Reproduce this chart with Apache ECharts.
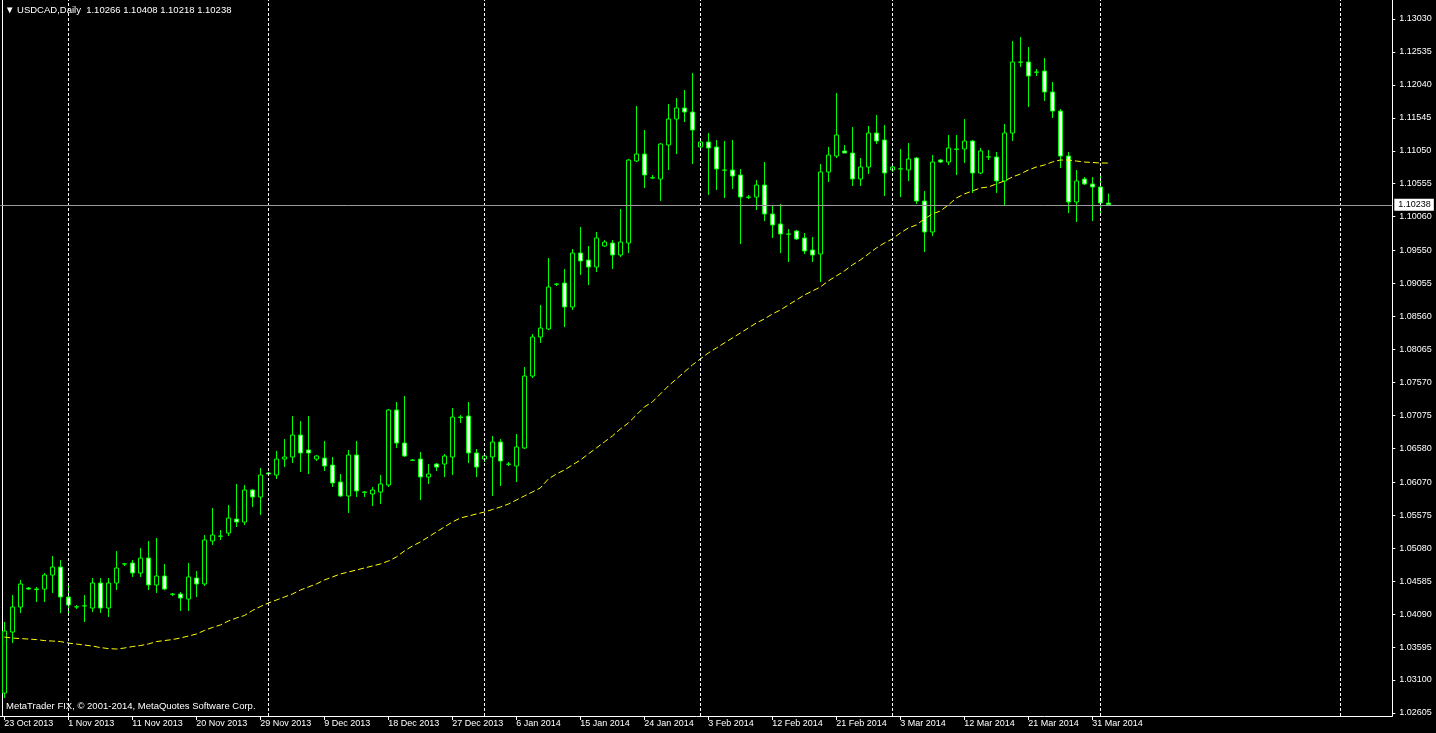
<!DOCTYPE html>
<html><head><meta charset="utf-8">
<script src="https://cdn.jsdelivr.net/npm/echarts@6/dist/echarts.min.js"></script>
<style>html,body{margin:0;padding:0;background:#000;overflow:hidden}#c{width:1436px;height:733px}</style>
</head><body><div id="c"></div><script>
// ---- data ----
const symbolName = 'USDCAD,Daily';
const headerOHLC = ['1.10266', '1.10408', '1.10218', '1.10238'];
const copyrightText = 'MetaTrader FIX, \u00A9 2001-2014, MetaQuotes Software Corp.';
const monthDays = [
  ['Oct', 2013, [23,24,25,27,28,29,30,31]],
  ['Nov', 2013, [1,3,4,5,6,7,8,10,11,12,13,14,15,17,18,19,20,21,22,24,25,26,27,28,29]],
  ['Dec', 2013, [1,2,3,4,5,6,8,9,10,11,12,13,15,16,17,18,19,20,22,23,24,25,26,27,29,30,31]],
  ['Jan', 2014, [1,2,3,5,6,7,8,9,10,12,13,14,15,16,17,19,20,21,22,23,24,26,27,28,29,30,31]],
  ['Feb', 2014, [2,3,4,5,6,7,9,10,11,12,13,14,16,17,18,19,20,21,23,24,25,26,27,28]],
  ['Mar', 2014, [2,3,4,5,6,7,9,10,11,12,13,14,16,17,18,19,20,21,23,24,25,26,27,28,30,31]],
  ['Apr', 2014, [1,2]]
];
const futureSlots = 35;
const monthStartIdx = [8, 33, 60, 87, 111, 137, 167];
const priceTicks = [1.13030,1.12535,1.12040,1.11545,1.11050,1.10555,1.10060,1.09550,1.09055,1.08560,1.08065,1.07570,1.07075,1.06580,1.06070,1.05575,1.05080,1.04585,1.04090,1.03595,1.03100,1.02605];
const yMin = 1.02559, yMax = 1.13315;
const lastPrice = 1.10238;

const opens = [
1.02904,1.0382,1.04196,1.04481,1.04466,1.04466,1.04677,1.04797,1.04346,1.04196,
1.04211,1.04181,1.04557,1.04181,1.04557,1.04842,1.04857,1.04707,1.04932,1.04527,
1.04662,1.04391,1.04391,1.04316,1.04632,1.04542,1.05188,1.05263,1.05308,1.05518,
1.05473,1.05954,1.05849,1.06209,1.06179,1.06419,1.0645,1.0678,1.06555,1.06419,
1.06434,1.06329,1.06074,1.05864,1.0648,1.05924,1.05894,1.05924,1.06029,1.07156,
1.0666,1.06404,1.06419,1.06149,1.06344,1.06344,1.0645,1.0705,1.07065,1.0651,
1.06419,1.0645,1.06675,1.06344,1.06314,1.06585,1.07666,1.08252,1.08372,1.09048,
1.09063,1.08703,1.09514,1.09409,1.09304,1.09619,1.09664,1.09484,1.09664,1.10896,
1.11001,1.10641,1.10626,1.11137,1.11527,1.11693,1.11632,1.11107,1.11182,1.11107,
1.10761,1.10761,1.10686,1.10355,1.10355,1.10536,1.101,1.0995,1.098,1.09845,
1.0974,1.09559,1.09499,1.10731,1.10971,1.11047,1.11016,1.10626,1.10806,1.11317,
1.11212,1.10761,1.10776,1.10761,1.10941,1.10295,1.0983,1.10911,1.10881,1.11077,
1.11077,1.11197,1.10716,1.10956,1.10956,1.10596,1.11317,1.12384,1.12384,1.12233,
1.12248,1.11933,1.11647,1.10971,1.1028,1.10626,1.10551,1.10506,1.10266];
const closes = [
1.03835,1.04196,1.04542,1.04466,1.0446,1.04677,1.04797,1.04346,1.04226,1.042,
1.04215,1.04557,1.04181,1.04557,1.04782,1.04845,1.04707,1.04932,1.04527,1.04662,
1.04466,1.04388,1.04331,1.04647,1.04542,1.05203,1.05278,1.0526,1.05533,1.05473,
1.05954,1.05849,1.06179,1.06194,1.06419,1.0645,1.0678,1.0651,1.0651,1.06465,
1.06314,1.06059,1.05864,1.0648,1.05939,1.0592,1.05954,1.06044,1.07156,1.0666,
1.06465,1.064,1.06149,1.06194,1.06299,1.06465,1.0705,1.07045,1.0651,1.06299,
1.06465,1.06675,1.06389,1.0634,1.066,1.07666,1.08252,1.08387,1.09003,1.09045,
1.08703,1.09514,1.09394,1.09304,1.0974,1.09679,1.09484,1.09679,1.10911,1.11001,
1.10686,1.10645,1.11152,1.11527,1.11693,1.11632,1.11362,1.11182,1.11092,1.10776,
1.10758,1.10671,1.10355,1.1035,1.10536,1.101,1.09935,1.098,1.09797,1.09725,
1.09544,1.09484,1.10731,1.10986,1.11287,1.11016,1.10626,1.10806,1.11317,1.11197,
1.10716,1.10806,1.1078,1.10926,1.10295,1.0983,1.10881,1.10881,1.11092,1.11072,
1.11197,1.10716,1.11047,1.1096,1.10596,1.11317,1.12384,1.1238,1.12173,1.1223,
1.11933,1.11647,1.10971,1.1028,1.10596,1.10551,1.10506,1.10265,1.10238];
const highs = [
1.03971,1.04376,1.04602,1.04497,1.04497,1.04707,1.04962,1.04902,1.04542,1.04226,
1.04376,1.04632,1.04632,1.04632,1.05037,1.04857,1.04902,1.05082,1.05188,1.05233,
1.04842,1.04406,1.04421,1.04857,1.04737,1.05278,1.05683,1.05353,1.05728,1.06044,
1.06029,1.05969,1.06284,1.06224,1.0654,1.0672,1.07065,1.0699,1.07065,1.0648,
1.0669,1.0645,1.06194,1.06555,1.0669,1.05939,1.05999,1.06179,1.07171,1.07276,
1.07366,1.06419,1.06525,1.06344,1.06359,1.06495,1.07186,1.0708,1.07276,1.0657,
1.0648,1.06765,1.0672,1.06374,1.06795,1.07802,1.08297,1.08733,1.09439,1.09063,
1.09274,1.09574,1.09905,1.09619,1.0983,1.09709,1.09709,1.10175,1.10926,1.11723,
1.11362,1.10686,1.11167,1.11753,1.11843,1.11963,1.12218,1.11212,1.11317,1.11212,
1.11197,1.11212,1.10776,1.10386,1.10611,1.10881,1.10235,1.1025,1.09875,1.0986,
1.09815,1.09755,1.10851,1.11107,1.11918,1.11137,1.11407,1.10941,1.11422,1.11587,
1.11437,1.10836,1.11077,1.11167,1.10956,1.10446,1.10986,1.10926,1.11287,1.11287,
1.11527,1.11212,1.11092,1.11062,1.11032,1.11452,1.12699,1.12759,1.12609,1.12278,
1.12444,1.12083,1.11677,1.11032,1.10761,1.10656,1.10656,1.10686,1.10408];
const lows = [
1.02829,1.03655,1.04106,1.04451,1.04271,1.04271,1.04406,1.04106,1.04106,1.04166,
1.03971,1.04121,1.04106,1.04046,1.04451,1.04812,1.04647,1.04647,1.04451,1.04406,
1.04451,1.04361,1.04136,1.04136,1.04346,1.04512,1.05127,1.05203,1.05263,1.05398,
1.05428,1.05698,1.05578,1.06179,1.06119,1.06299,1.06359,1.06224,1.06194,1.06389,
1.06239,1.05999,1.05849,1.05608,1.05849,1.05849,1.05713,1.05743,1.05999,1.06585,
1.0645,1.06389,1.05803,1.06044,1.06239,1.06149,1.06179,1.0696,1.06359,1.06149,
1.06374,1.05864,1.06014,1.06314,1.06074,1.0657,1.07636,1.08162,1.08357,1.09018,
1.08402,1.08658,1.09184,1.09033,1.09229,1.09604,1.09274,1.09454,1.09514,1.10881,
1.10491,1.10626,1.10295,1.10761,1.11001,1.11482,1.10851,1.11062,1.10386,1.10461,
1.1034,1.10476,1.09649,1.10325,1.1016,1.09995,1.0974,1.09514,1.09379,1.09709,
1.09499,1.09379,1.09079,1.10581,1.10941,1.11016,1.10521,1.10521,1.10701,1.11152,
1.1037,1.10731,1.10355,1.10596,1.1025,1.09529,1.0977,1.10866,1.10836,1.10686,
1.10866,1.10416,1.10701,1.10911,1.10416,1.10235,1.11197,1.12308,1.11708,1.12173,
1.11798,1.11542,1.10791,1.10115,1.0998,1.10536,1.09995,1.101,1.10218];
const movingAverage = [
1.03745,1.0373,1.03722,1.03715,1.03707,1.03692,1.03685,1.03677,1.03655,1.0364,
1.03625,1.0361,1.03587,1.03572,1.03565,1.0358,1.03602,1.03617,1.0364,1.03677,
1.03692,1.03707,1.0373,1.0376,1.0379,1.03843,1.03888,1.03926,1.03986,1.04031,
1.04068,1.04143,1.04203,1.04256,1.04301,1.04346,1.04391,1.04451,1.04497,1.04542,
1.04602,1.04647,1.04692,1.04722,1.04752,1.04782,1.04812,1.04842,1.04887,1.04947,
1.05037,1.05112,1.05173,1.05248,1.05323,1.05398,1.05473,1.05533,1.05563,1.05593,
1.05623,1.0566,1.05698,1.05743,1.05803,1.05864,1.05924,1.05984,1.06119,1.06194,
1.06254,1.06329,1.06404,1.06495,1.06585,1.06675,1.06765,1.0687,1.0696,1.0708,
1.07201,1.07276,1.07396,1.07516,1.07621,1.07726,1.07832,1.07922,1.08012,1.08087,
1.08162,1.08237,1.08312,1.08387,1.08463,1.08523,1.08598,1.08658,1.08733,1.08808,
1.08883,1.08943,1.09003,1.09094,1.09169,1.09244,1.09334,1.09409,1.09499,1.09589,
1.09664,1.09725,1.09815,1.0989,1.09935,1.10025,1.101,1.10145,1.10235,1.1034,
1.10401,1.10446,1.10491,1.10506,1.10551,1.10596,1.10656,1.10701,1.10761,1.10806,
1.10836,1.10881,1.10911,1.10911,1.10896,1.10881,1.10874,1.10866,1.10866];

// ---- build ----
const FONT = 'Liberation Sans';
const dates = [];
monthDays.forEach(function (m) { m[2].forEach(function (d) { dates.push(d + ' ' + m[0] + ' ' + m[1]); }); });
const categories = dates.concat(new Array(futureSlots).fill(''));
const candleData = opens.map(function (o, i) { return [o, closes[i], lows[i], highs[i]]; });
const labelEvery = function (i, v) { return i % 8 === 0 && v !== ''; };

const monthLines = monthStartIdx.map(function (i) {
  return { xAxis: i, lineStyle: { color: '#ffffff', type: [3, 2], width: 1 }, label: { show: false } };
});
const priceLine = [{
  yAxis: lastPrice,
  lineStyle: { color: '#9a9a9a', type: 'solid', width: 1 },
  label: { show: true, position: 'end', distance: 2, formatter: lastPrice.toFixed(5),
    color: '#000', backgroundColor: '#fff', padding: [2, 3, 1, 4], fontSize: 9, fontFamily: FONT }
}];

const chart = echarts.init(document.getElementById('c'), null, { renderer: 'canvas' });
chart.setOption({
  backgroundColor: '#000',
  animation: false,
  title: [
    { text: '\u25BC ' + symbolName + '  ' + headerOHLC.join(' '), left: 5, top: 5, padding: 0,
      textStyle: { color: '#fff', fontSize: 9.5, fontWeight: 'normal', fontFamily: FONT } },
    { text: copyrightText, left: 6, top: 701, padding: 0,
      textStyle: { color: '#fff', fontSize: 9.5, fontWeight: 'normal', fontFamily: FONT } }
  ],
  grid: { left: 0.3, right: 43.7, top: 0, bottom: 17, containLabel: false },
  xAxis: {
    type: 'category', data: categories, boundaryGap: true,
    axisLine: { show: true, lineStyle: { color: '#fff', width: 1 } },
    axisTick: { show: true, alignWithLabel: true, interval: labelEvery, length: 4, lineStyle: { color: '#fff' } },
    axisLabel: { interval: labelEvery, color: '#fff', align: 'left', margin: 3, fontSize: 9, fontFamily: FONT },
    splitLine: { show: false }
  },
  yAxis: [
    { type: 'value', position: 'right', min: yMin, max: yMax,
      axisLine: { show: true, lineStyle: { color: '#fff' } },
      axisTick: { show: true, length: 3, customValues: priceTicks, lineStyle: { color: '#fff' } },
      axisLabel: { customValues: priceTicks, color: '#fff', margin: 7, fontSize: 9, fontFamily: FONT,
        formatter: function (v) { return v.toFixed(5); } },
      splitLine: { show: false } },
    { type: 'value', position: 'left', min: yMin, max: yMax, offset: -2,
      axisLine: { show: true, lineStyle: { color: '#fff' } },
      axisTick: { show: false }, axisLabel: { show: false }, splitLine: { show: false } }
  ],
  series: [
    { type: 'candlestick', data: candleData, barWidth: 4, yAxisIndex: 0,
      itemStyle: { color: '#000', color0: '#fff', borderColor: '#00ff00', borderColor0: '#00ff00', borderWidth: 1 },
      markLine: { silent: true, symbol: ['none', 'none'], animation: false, data: monthLines } },
    { type: 'line', data: movingAverage, yAxisIndex: 0, symbol: 'none', silent: true, z: 3,
      lineStyle: { color: '#ffff00', width: 1, type: [6, 3] },
      markLine: { silent: true, symbol: ['none', 'none'], animation: false, precision: 5, data: priceLine } }
  ]
});
</script></body></html>
